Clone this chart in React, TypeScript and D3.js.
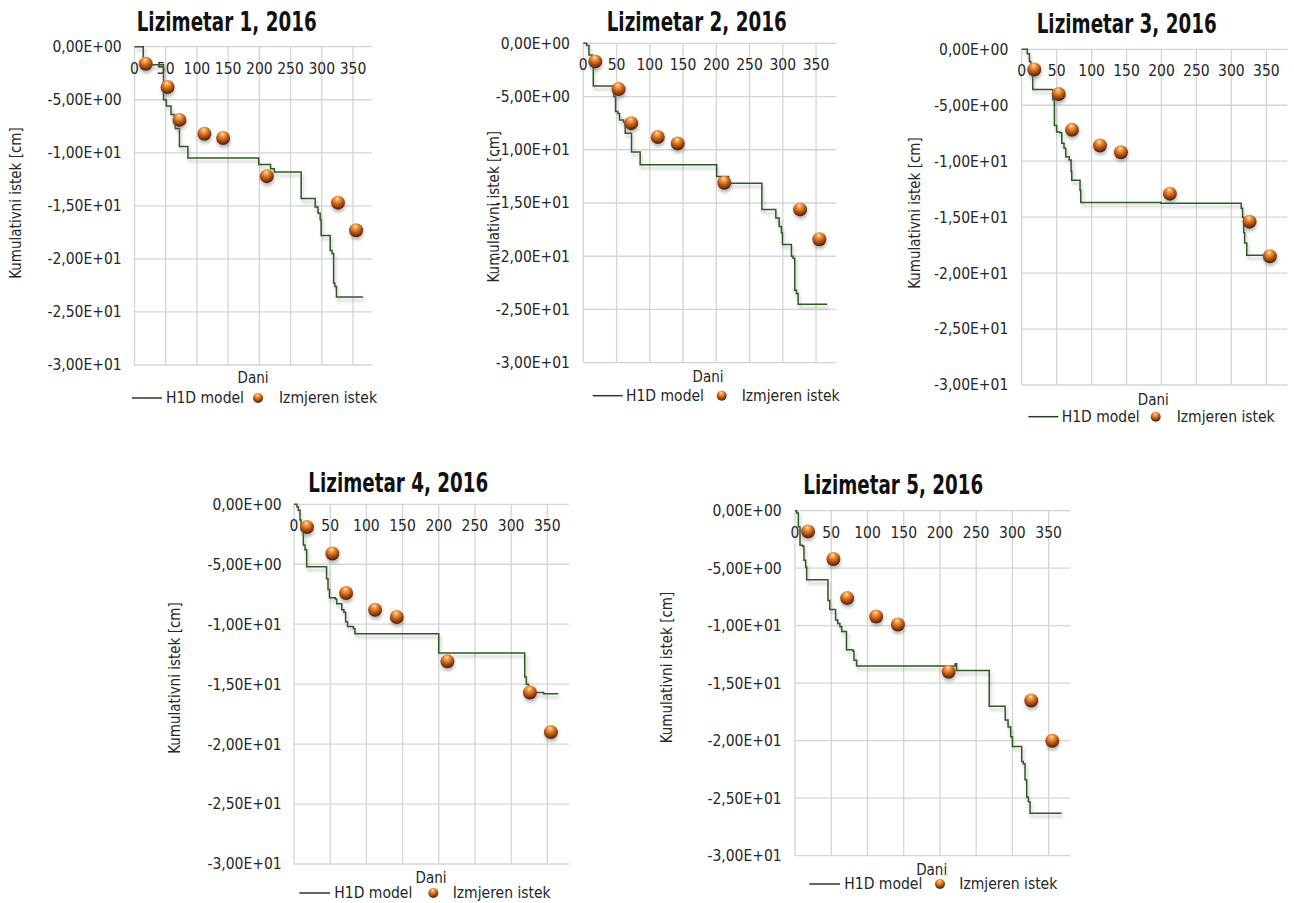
import React from "react";
import * as d3 from "d3";

// ---------- data ----------
const measuredDays = [18, 53, 72, 112, 142, 212, 326, 355];
const measured1 = [-1.6, -3.8, -6.9, -8.2, -8.6, -12.2, -14.7, -17.3];
const measured2 = [-1.7, -4.3, -7.5, -8.8, -9.4, -13.1, -15.6, -18.4];
const measured3 = [-1.8, -4.0, -7.2, -8.6, -9.2, -12.9, -15.4, -18.5];
const measured4 = [-1.9, -4.1, -7.4, -8.8, -9.4, -13.1, -15.7, -19.0];
const measured5 = [-1.8, -4.2, -7.6, -9.2, -9.9, -14.0, -16.5, -20.0];

const model1: [number, number][] = [
  [0, 0], [14, -1.7], [46.5, -5.0], [51, -5.6], [58.5, -6.4], [64, -6.6], [65.5, -7.7],
  [72, -9.4], [85.5, -10.5], [199, -11.1], [218, -11.5], [224, -11.8], [267, -14.3],
  [289.5, -15.1], [294, -15.7], [297.5, -16.3], [299, -17.8], [313.5, -19.2], [316.5, -19.5],
  [319, -22.3], [321, -22.6], [323.5, -23.6], [366, -23.6],
];
const model2: [number, number][] = [
  [0, 0], [5, -0.2], [8.5, -1.1], [14, -1.4], [15, -4.0], [46, -5.0], [48.5, -6.4], [52, -6.6],
  [54.5, -7.2], [60.5, -7.4], [63, -8.45], [72.5, -10.2], [85.5, -11.4], [200.5, -12.5],
  [218.5, -13.15], [268.5, -15.6], [289.5, -16.4], [294.5, -17.2], [298, -17.8], [299.5, -18.9],
  [313, -20.0], [315.5, -20.2], [318, -23.2], [320.5, -23.5], [323, -24.5], [367, -24.5],
];
const model3: [number, number][] = [
  [0, 0], [8, -0.4], [11, -1.1], [13, -2.0], [15.8, -3.6], [44.5, -4.5], [46.8, -6.8], [50, -7.4],
  [55, -7.45], [57.3, -8.4], [60.6, -8.85], [63, -9.6], [68, -9.9], [70.7, -10.9], [71.6, -11.7],
  [83.5, -12.6], [84.5, -13.7], [199, -13.75], [314, -14.2], [316, -15.0], [317.6, -16.4],
  [319, -17.3], [322, -18.4], [365, -18.4],
];
const model4: [number, number][] = [
  [0, 0], [4, -0.2], [6, -0.5], [8.3, -1.3], [9.7, -2.1], [12.9, -3.4], [15.2, -3.8], [17.5, -5.2],
  [45, -6.2], [47, -7.1], [49, -7.8], [57, -7.9], [59, -8.3], [66, -8.8], [69, -9.0], [71.3, -9.8],
  [74, -10.2], [82, -10.35], [84.2, -10.8], [200, -12.4], [318.8, -14.4], [321, -15.0],
  [324, -15.7], [345, -15.8], [365, -15.8],
];
const model5: [number, number][] = [
  [0, 0], [2.3, -0.2], [4.6, -1.4], [6.9, -3.0], [10.6, -3.1], [12.4, -4.3], [14.7, -4.9],
  [16.1, -6.0], [45.5, -7.8], [48, -8.6], [56, -9.5], [59, -9.8], [62, -10.1], [64.4, -10.5],
  [71, -12.1], [80, -12.2], [81.4, -13.0], [85, -13.5], [221, -13.3], [223, -13.9], [268, -17.0],
  [290, -18.2], [294, -18.8], [297.6, -19.65], [300, -20.5], [312.8, -21.8], [315, -22.0],
  [317.4, -23.4], [319.7, -24.9], [322, -25.3], [324.3, -26.3], [368, -26.3],
];

const titles = ["Lizimetar 1, 2016", "Lizimetar 2, 2016", "Lizimetar 3, 2016", "Lizimetar 4, 2016", "Lizimetar 5, 2016"];
const xTicks = [0, 50, 100, 150, 200, 250, 300, 350];
const yTicks = [0, -5, -10, -15, -20, -25, -30];
const seriesNames = ["H1D model", "Izmjeren istek"];
const xTitle = "Dani";
const yTitle = "Kumulativni istek [cm]";

const models = [model1, model2, model3, model4, model5];
const measured = [measured1, measured2, measured3, measured4, measured5];

// ---------- layout ----------
type Lay = {
  x0: number; x1: number; y0: number; y1: number;
  tcx: number; ty: number; ylr: number; ytx: number; yty: number;
  dx: number; dy: number; ly: number; l0: number; l1: number; t1: number; bx: number; t2: number;
};
const layouts: Lay[] = [
  { x0: 134.5, x1: 371.7, y0: 46.7, y1: 365, tcx: 226.7, ty: 31, ylr: 121.7, ytx: 16, yty: 203, dx: 253, dy: 383, ly: 398, l0: 132, l1: 162, t1: 166, bx: 258, t2: 279 },
  { x0: 583.3, x1: 836, y0: 43.3, y1: 362.7, tcx: 696.7, ty: 30.7, ylr: 570, ytx: 493.3, yty: 206.7, dx: 708, dy: 381.7, ly: 395.7, l0: 592.7, l1: 622.7, t1: 626, bx: 721.7, t2: 741.7 },
  { x0: 1021.7, x1: 1287.3, y0: 49.3, y1: 385, tcx: 1126.7, ty: 33.3, ylr: 1008.3, ytx: 915, yty: 213, dx: 1153.3, dy: 405, ly: 416.7, l0: 1028.3, l1: 1058.3, t1: 1061.7, bx: 1155.7, t2: 1176.7 },
  { x0: 294, x1: 569, y0: 504.3, y1: 864, tcx: 398.3, ty: 491.7, ylr: 281.7, ytx: 175, yty: 678, dx: 431, dy: 883.3, ly: 893, l0: 299.3, l1: 330, t1: 334.3, bx: 433.3, t2: 452.7 },
  { x0: 795, x1: 1070.4, y0: 510.7, y1: 855.7, tcx: 893.3, ty: 494.3, ylr: 781.7, ytx: 666.7, yty: 667.5, dx: 931.7, dy: 875, ly: 884, l0: 809.3, l1: 840, t1: 844.3, bx: 940, t2: 959.3 },
];

const FONT = "'Liberation Sans Narrow', 'DejaVu Sans Condensed', 'Liberation Sans', sans-serif";
const GRID = "#d4d4d4";
const LINE = "#2f5a22";
const TXT = "#262626";

function fmtSci(v: number): string {
  if (v === 0) return "0,00E+00";
  const e = Math.floor(Math.log10(Math.abs(v)));
  const m = v / Math.pow(10, e);
  const es = (e < 0 ? "-" : "+") + String(Math.abs(e)).padStart(2, "0");
  return m.toFixed(2).replace(".", ",") + "E" + es;
}

function Panel({ i }: { i: number }) {
  const L = layouts[i];
  const x = d3.scaleLinear().domain([0, 380]).range([L.x0, L.x1]);
  const y = d3.scaleLinear().domain([0, -30]).range([L.y0, L.y1]);
  const line = d3.line<[number, number]>().x((d) => x(d[0])).y((d) => y(d[1])).curve(d3.curveStepAfter);
  const meas = measured[i];
  return (
    <g>
      {yTicks.map((t) => (
        <line key={"h" + t} x1={x(0)} x2={x(380)} y1={y(t)} y2={y(t)} stroke={GRID} strokeWidth={1.3} />
      ))}
      {xTicks.map((t) => (
        <line key={"v" + t} x1={x(t)} x2={x(t)} y1={y(0)} y2={y(-30)} stroke={GRID} strokeWidth={1.3} />
      ))}
      {yTicks.map((t) => (
        <text key={"yl" + t} x={L.ylr} y={y(t)} dy="0.35em" textAnchor="end" fontSize={15.5} fill={TXT} fontFamily={FONT}>
          {fmtSci(t)}
        </text>
      ))}
      {xTicks.map((t) => (
        <text key={"xl" + t} x={x(t)} y={y(0) + 27} textAnchor="middle" fontSize={15.5} fill={TXT} fontFamily={FONT}>
          {t}
        </text>
      ))}
      <path d={line(models[i]) || ""} fill="none" stroke={LINE} strokeWidth={1.5} filter="url(#lshadow)" />
      {measuredDays.map((d, k) => (
        <circle key={"m" + k} cx={x(d)} cy={y(meas[k])} r={7} fill="url(#ball)" filter="url(#bshadow)" />
      ))}
      <text x={L.tcx} y={L.ty} textAnchor="middle" fontSize={27} fontWeight="bold" fill="#111" fontFamily={FONT} textLength={180} lengthAdjust="spacingAndGlyphs">
        {titles[i]}
      </text>
      <text transform={`translate(${L.ytx},${L.yty}) rotate(-90)`} textAnchor="middle" dy="0.35em" fontSize={15} fill={TXT} fontFamily={FONT}>
        {yTitle}
      </text>
      <text x={L.dx} y={L.dy} textAnchor="middle" fontSize={15} fill={TXT} fontFamily={FONT}>
        {xTitle}
      </text>
      <line x1={L.l0} x2={L.l1} y1={L.ly} y2={L.ly} stroke="#2b3a26" strokeWidth={1.5} />
      <text x={L.t1} y={L.ly} dy="0.35em" fontSize={15.5} fill={TXT} fontFamily={FONT}>{seriesNames[0]}</text>
      <circle cx={L.bx} cy={L.ly} r={5} fill="url(#ball)" />
      <text x={L.t2} y={L.ly} dy="0.35em" fontSize={15.5} fill={TXT} fontFamily={FONT}>{seriesNames[1]}</text>
    </g>
  );
}

export default function App() {
  return (
    <svg width={1294} height={903} style={{ position: "absolute", left: 0, top: 0, background: "#fff" }}>
      <defs>
        <radialGradient id="ball" cx="45%" cy="30%" r="70%" fx="45%" fy="22%">
          <stop offset="0%" stopColor="#fff6e6" />
          <stop offset="14%" stopColor="#f7b26a" />
          <stop offset="45%" stopColor="#d8701f" />
          <stop offset="78%" stopColor="#8a3a08" />
          <stop offset="100%" stopColor="#4a1c02" />
        </radialGradient>
        <filter id="lshadow" x="-10%" y="-10%" width="120%" height="130%">
          <feDropShadow dx={1.5} dy={3.5} stdDeviation={1.4} floodColor="#808080" floodOpacity={0.5} />
        </filter>
        <filter id="bshadow" x="-50%" y="-50%" width="200%" height="220%">
          <feDropShadow dx={0.5} dy={3} stdDeviation={1.6} floodColor="#707070" floodOpacity={0.45} />
        </filter>
      </defs>
      {layouts.map((_, i) => (
        <Panel key={i} i={i} />
      ))}
    </svg>
  );
}
